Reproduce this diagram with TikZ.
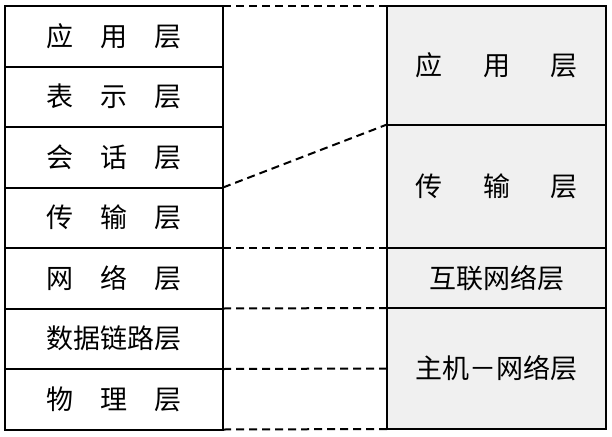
\documentclass[tikz,border=0pt]{standalone}
\usepackage{fontspec}
\newfontfamily\cjk{Noto Sans CJK SC}
\usetikzlibrary{positioning}

\begin{document}
\begin{tikzpicture}[
    x=1pt, y=1pt,
    font=\cjk\fontsize{27}{32}\selectfont,
    layer/.style={draw, line width=2pt, minimum width=218pt, minimum height=60.5pt, inner sep=0pt, outer sep=0pt},
    tcplayer/.style={layer, fill=gray!12, minimum width=219pt},
    dashlink/.style={line width=2pt, dash pattern=on 8pt off 5pt}
  ]
    \useasboundingbox (0,0) rectangle (612,-436);
    % OSI
    \node[layer, anchor=north west] (app) at (5,-6) {应\hspace{1em}用\hspace{1em}层};
    \node[layer, below=0pt of app] (pres) {表\hspace{1em}示\hspace{1em}层};
    \node[layer, below=0pt of pres] (sess) {会\hspace{1em}话\hspace{1em}层};
    \node[layer, below=0pt of sess] (trans) {传\hspace{1em}输\hspace{1em}层};
    \node[layer, below=0pt of trans] (net) {网\hspace{1em}络\hspace{1em}层};
    \node[layer, below=0pt of net] (link) {数据链路层};
    \node[layer, below=0pt of link] (phys) {物\hspace{1em}理\hspace{1em}层};
    % TCP/IP
    \node[tcplayer, anchor=north west, minimum height=118.5pt] (tapp) at (387,-6) {应\hspace{1.5em}用\hspace{1.5em}层};
    \node[tcplayer, below=0pt of tapp, minimum height=123.5pt] (ttrans) {传\hspace{1.5em}输\hspace{1.5em}层};
    \node[tcplayer, below=0pt of ttrans, minimum height=60pt] (tnet) {互联网络层};
    \node[tcplayer, below=0pt of tnet, minimum height=121pt] (thost) {主机－网络层};
    \draw[dashlink] (app.north east) -- (tapp.north west);
    \draw[dashlink] (trans.north east) -- (ttrans.north west);
    \draw[dashlink] (net.north east) -- (tnet.north west);
    \draw[dashlink] (link.north east) -- (thost.north west);
    \draw[dashlink] (phys.north east) -- (thost.west);
    \draw[dashlink] (phys.south east) -- (thost.south west);
  \end{tikzpicture}
\end{document}
